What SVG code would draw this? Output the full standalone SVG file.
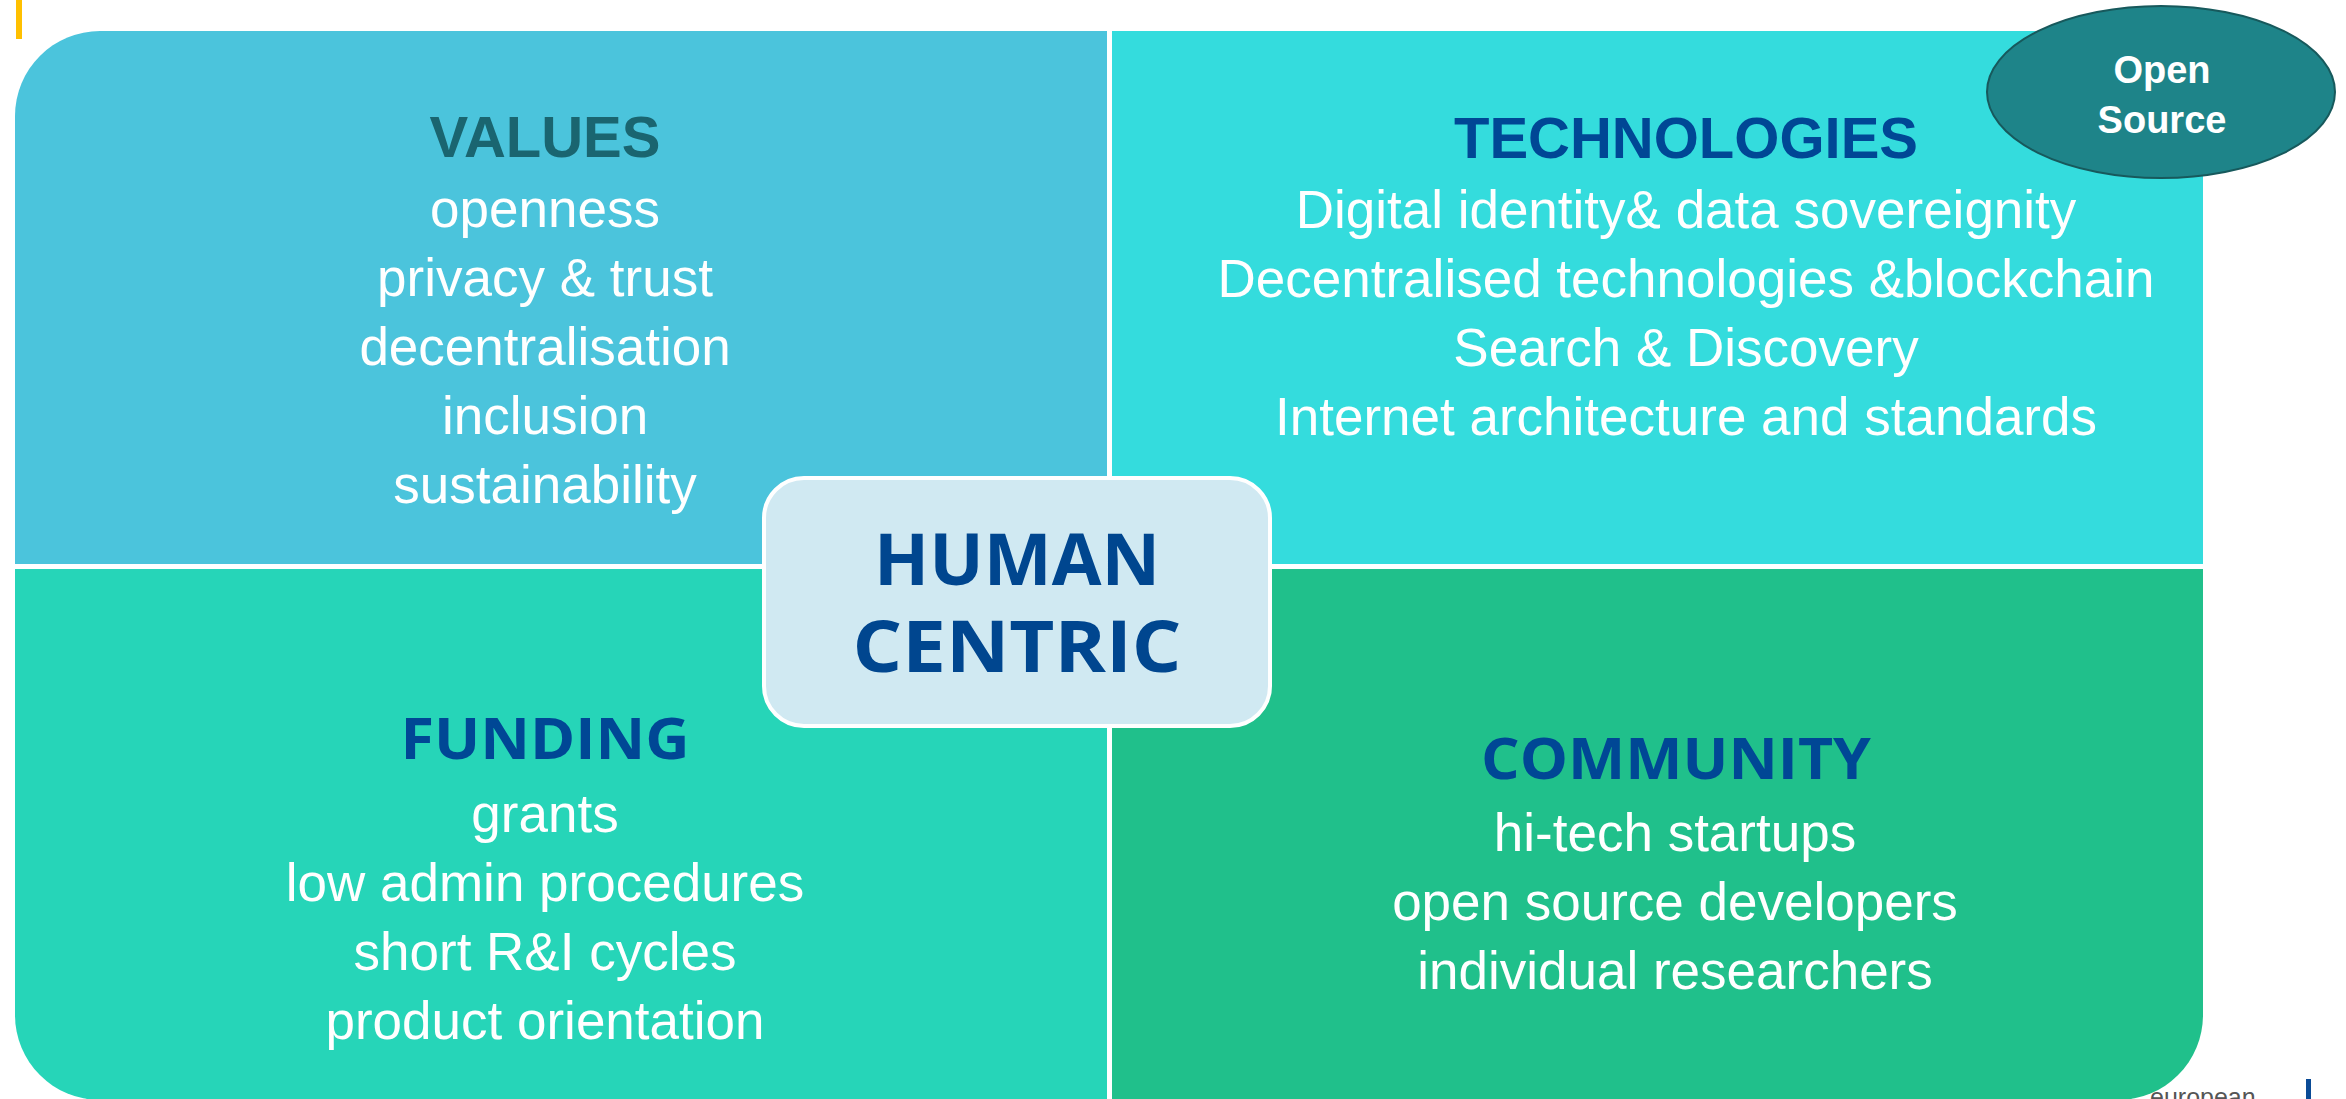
<svg xmlns="http://www.w3.org/2000/svg" width="2346" height="1099" viewBox="0 0 2346 1099">
<style>
.body{font-family:"Liberation Sans",Arial,sans-serif;font-size:53px;fill:#ffffff;text-anchor:middle}
.h1{font-family:"Liberation Sans",Arial,sans-serif;font-size:58px;font-weight:bold;text-anchor:middle}
.h2{font-family:"Open Sans","Noto Sans",sans-serif;font-size:58px;font-weight:700;fill:#004795;text-anchor:middle}
.hc{font-family:"Open Sans","Noto Sans",sans-serif;font-size:72px;font-weight:700;fill:#00468f;text-anchor:middle}
.os{font-family:"Liberation Sans",Arial,sans-serif;font-size:38px;font-weight:bold;fill:#ffffff;text-anchor:middle}
</style>
<defs>
<clipPath id="main"><rect x="15" y="31" width="2188" height="1069" rx="85" ry="85"/></clipPath>
</defs>
<rect x="0" y="0" width="2346" height="1099" fill="#ffffff"/>
<rect x="16" y="0" width="6" height="39" fill="#ffc000"/>
<text x="2150" y="1106" font-family="Liberation Sans,Arial,sans-serif" font-size="25" fill="#555555">european</text>
<rect x="2306" y="1079" width="5" height="20" fill="#0a4b96"/>
<g clip-path="url(#main)">
<g id="values">
<rect x="15" y="31" width="1092" height="533" fill="#4bc4dc"/>
</g>
<g id="technologies">
<rect x="1112" y="31" width="1091" height="533" fill="#34dcdd"/>
</g>
<g id="funding">
<rect x="15" y="569" width="1092" height="531" fill="#26d5b8"/>
</g>
<g id="community">
<rect x="1112" y="569" width="1091" height="531" fill="#20c08b"/>
</g>
</g>
<g id="values-text">
<text class="h1" x="545" y="157" fill="#1a6570">VALUES</text>
<text class="body" x="545" y="227">openness</text>
<text class="body" x="545" y="296">privacy &amp; trust</text>
<text class="body" x="545" y="365">decentralisation</text>
<text class="body" x="545" y="434">inclusion</text>
<text class="body" x="545" y="503">sustainability</text>
</g>
<g id="technologies-text">
<text class="h1" x="1686" y="158" fill="#004795">TECHNOLOGIES</text>
<text class="body" x="1686" y="228">Digital identity&amp; data sovereignity</text>
<text class="body" x="1686" y="297">Decentralised technologies &amp;blockchain</text>
<text class="body" x="1686" y="366">Search &amp; Discovery</text>
<text class="body" x="1686" y="435">Internet architecture and standards</text>
</g>
<g id="funding-text">
<text class="h2" x="545" y="759" textLength="289" lengthAdjust="spacingAndGlyphs">FUNDING</text>
<text class="body" x="545" y="832">grants</text>
<text class="body" x="545" y="901">low admin procedures</text>
<text class="body" x="545" y="970">short R&amp;I cycles</text>
<text class="body" x="545" y="1039">product orientation</text>
</g>
<g id="community-text">
<text class="h2" x="1676" y="779" textLength="390" lengthAdjust="spacingAndGlyphs">COMMUNITY</text>
<text class="body" x="1675" y="851">hi-tech startups</text>
<text class="body" x="1675" y="920">open source developers</text>
<text class="body" x="1675" y="989">individual researchers</text>
</g>
<g id="human-centric">
<rect x="764" y="478" width="506" height="248" rx="40" ry="40" fill="#d0e9f2" stroke="#ffffff" stroke-width="4"/>
<text class="hc" x="1017" y="585" textLength="286" lengthAdjust="spacingAndGlyphs">HUMAN</text>
<text class="hc" x="1017" y="672" textLength="329" lengthAdjust="spacingAndGlyphs">CENTRIC</text>
</g>
<g id="open-source">
<ellipse cx="2161" cy="92" rx="174" ry="86" fill="#1e8489" stroke="#17595c" stroke-width="2"/>
<text class="os" x="2162" y="83">Open</text>
<text class="os" x="2162" y="133">Source</text>
</g>
<g id="connectors"></g>
</svg>
